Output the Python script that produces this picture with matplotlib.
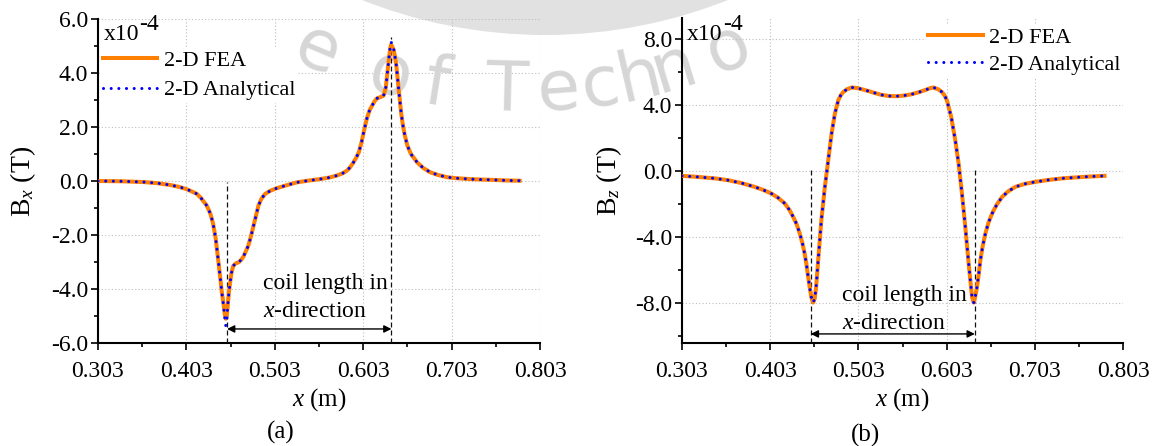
import numpy as np
import matplotlib
matplotlib.use("Agg")
import matplotlib.pyplot as plt
from matplotlib.patches import Circle

plt.rcParams['font.family'] = ['Liberation Serif', 'DejaVu Serif']
plt.rcParams['mathtext.fontset'] = 'custom'
plt.rcParams['mathtext.rm'] = 'Liberation Serif'
plt.rcParams['mathtext.it'] = 'Liberation Serif:italic'
plt.rcParams['axes.unicode_minus'] = False

# ---------------- data ----------------
x_bx = [0.303, 0.330, 0.355, 0.370, 0.385, 0.395, 0.403, 0.410, 0.415, 0.420,
        0.426, 0.430, 0.433, 0.436, 0.438, 0.441, 0.443, 0.445, 0.4465, 0.4475,
        0.4485, 0.4495, 0.451, 0.4525, 0.454, 0.456, 0.459, 0.462, 0.465, 0.4675,
        0.470, 0.473, 0.476, 0.479, 0.482, 0.4845, 0.488, 0.492, 0.498, 0.505,
        0.515, 0.528, 0.540, 0.554, 0.565, 0.573, 0.580, 0.5845, 0.588, 0.592,
        0.595, 0.598, 0.601, 0.6035, 0.607, 0.610, 0.613, 0.616, 0.6185, 0.622,
        0.626, 0.6285, 0.630, 0.632, 0.6335, 0.6345, 0.6355, 0.6375, 0.639, 0.6405,
        0.6425, 0.6443, 0.646, 0.648, 0.650, 0.653, 0.657, 0.664, 0.671, 0.679,
        0.688, 0.698, 0.710, 0.724, 0.740, 0.751, 0.765, 0.780]
bx_fea = [0.00, -0.01, -0.04, -0.08, -0.15, -0.22, -0.30, -0.40, -0.48, -0.65,
          -0.91, -1.20, -1.55, -2.10, -2.65, -3.50, -4.10, -4.55, -4.95, -5.10,
          -5.02, -4.70, -4.15, -3.75, -3.40, -3.14, -3.05, -3.01, -2.92, -2.80,
          -2.62, -2.40, -2.05, -1.65, -1.25, -0.91, -0.65, -0.48, -0.36, -0.27,
          -0.17, -0.05, 0.01, 0.07, 0.13, 0.20, 0.29, 0.38, 0.50, 0.69,
          0.86, 1.06, 1.42, 1.80, 2.30, 2.60, 2.79, 2.96, 3.06, 3.10,
          3.16, 3.45, 3.90, 4.50, 4.90, 5.05, 5.00, 4.85, 4.60, 4.27,
          3.60, 3.04, 2.50, 2.05, 1.70, 1.31, 1.00, 0.69, 0.48, 0.32,
          0.22, 0.14, 0.10, 0.07, 0.05, 0.04, 0.02, 0.01]
bx_ana = [0.00, -0.01, -0.04, -0.08, -0.15, -0.22, -0.30, -0.40, -0.48, -0.65,
          -0.91, -1.20, -1.55, -2.10, -2.65, -3.50, -4.10, -4.62, -5.10, -5.35,
          -5.25, -4.74, -4.15, -3.75, -3.40, -3.14, -3.05, -3.01, -2.92, -2.80,
          -2.62, -2.40, -2.05, -1.65, -1.25, -0.91, -0.65, -0.48, -0.36, -0.27,
          -0.17, -0.05, 0.01, 0.07, 0.13, 0.20, 0.29, 0.38, 0.50, 0.69,
          0.86, 1.06, 1.42, 1.80, 2.30, 2.60, 2.79, 2.96, 3.06, 3.10,
          3.16, 3.45, 3.90, 4.52, 4.95, 5.14, 5.10, 4.89, 4.60, 4.27,
          3.60, 3.04, 2.50, 2.05, 1.70, 1.31, 1.00, 0.69, 0.48, 0.32,
          0.22, 0.14, 0.10, 0.07, 0.05, 0.04, 0.02, 0.01]

x_bz = [0.303, 0.320, 0.340, 0.355, 0.370, 0.385, 0.395, 0.404, 0.412, 0.4195,
        0.425, 0.429, 0.433, 0.4365, 0.4395, 0.442, 0.444, 0.446, 0.448, 0.4495,
        0.4517, 0.4535, 0.455, 0.4574, 0.461, 0.465, 0.4688, 0.4726, 0.4764, 0.4802,
        0.483, 0.486, 0.490, 0.4954, 0.502, 0.5105, 0.520, 0.529, 0.538, 0.5466,
        0.555, 0.5635, 0.5715, 0.5787, 0.5835, 0.588, 0.5935, 0.5976, 0.6005, 0.6033,
        0.6082, 0.6128, 0.6166, 0.6204, 0.6242, 0.628, 0.6318, 0.6337, 0.6355, 0.6375,
        0.6395, 0.6413, 0.644, 0.647, 0.6505, 0.6546, 0.660, 0.666, 0.673, 0.6812,
        0.692, 0.704, 0.718, 0.7343, 0.750, 0.765, 0.782]
bz_fea = [-0.27, -0.33, -0.42, -0.53, -0.70, -0.93, -1.12, -1.33, -1.60, -1.94,
          -2.35, -2.75, -3.20, -3.76, -4.35, -4.97, -5.60, -6.39, -7.10, -7.60,
          -7.95, -7.70, -7.05, -5.38, -2.95, -0.93, 0.68, 2.30, 3.52, 4.32,
          4.62, 4.82, 4.98, 5.09, 5.05, 4.93, 4.78, 4.64, 4.57, 4.56,
          4.60, 4.68, 4.80, 4.93, 5.03, 5.09, 4.98, 4.82, 4.62, 4.32,
          3.31, 1.90, 0.48, -1.33, -3.36, -5.58, -7.60, -7.95, -7.60, -6.99,
          -6.20, -5.38, -4.50, -3.76, -3.10, -2.55, -2.00, -1.54, -1.20, -0.93,
          -0.75, -0.63, -0.52, -0.42, -0.36, -0.31, -0.27]
bz_ana = list(bz_fea)

coil_start = 0.449
coil_end = 0.635

x_ticks = [0.303, 0.403, 0.503, 0.603, 0.703, 0.803]
x_ticklabels = ['0.303', '0.403', '0.503', '0.603', '0.703', '0.803']
bx_ticks = [-6.0, -4.0, -2.0, 0.0, 2.0, 4.0, 6.0]
bx_ticklabels = ['-6.0', '-4.0', '-2.0', '0.0', '2.0', '4.0', '6.0']
bz_ticks = [-8.0, -4.0, 0.0, 4.0, 8.0]
bz_ticklabels = ['-8.0', '-4.0', '0.0', '4.0', '8.0']

FEA_COLOR = '#FF7F00'
ANA_COLOR = '#0000FF'
FS = 17

W, H = 1155, 446
fig = plt.figure(figsize=(W / 100, H / 100), dpi=100)

# background layer in pixel coordinates for the faint emblem
bg = fig.add_axes([0, 0, 1, 1], zorder=-5)
bg.set_xlim(0, W)
bg.set_ylim(H, 0)
bg.axis('off')
bg.add_patch(Circle((545, -461), 496, color='#e1e1e1', lw=0))


def style_axes(ax, yticks, yticklabels, ylim, ystep):
    ax.set_facecolor('none')
    for s in ('top', 'right'):
        ax.spines[s].set_visible(False)
    for s in ('left', 'bottom'):
        ax.spines[s].set_linewidth(1.5)
    ax.set_xlim(0.303, 0.803)
    ax.set_ylim(*ylim)
    ax.set_xticks(x_ticks)
    ax.set_xticklabels(x_ticklabels)
    ax.set_xticks(np.arange(0.353, 0.803, 0.1), minor=True)
    ax.set_yticks(yticks)
    ax.set_yticklabels(yticklabels)
    ymin_minor = np.ceil(ylim[0] / ystep) * ystep
    ax.set_yticks(np.arange(ymin_minor, ylim[1] + 1e-9, ystep), minor=True)
    ax.tick_params(which='major', direction='out', length=5, width=1.2, labelsize=FS)
    ax.tick_params(which='minor', direction='out', length=3, width=1.2)
    ax.tick_params(axis='x', which='major', pad=8)
    ax.tick_params(axis='y', which='major', pad=2)
    ax.grid(True, which='major', linestyle=(0, (1, 2)), color='#bdbdbd', lw=0.8)
    ax.set_axisbelow(True)


def draw_panel(ax, xs, fea, ana, arrow_y, dash_tops, text_x, text_y1, text_y2, ylim, sup_y):
    ax.plot(xs, fea, color=FEA_COLOR, lw=2.9, label='2-D FEA', zorder=7)
    ax.plot(xs, ana, color=ANA_COLOR, lw=2.2, linestyle=(0, (0.01, 2.5)),
            dash_capstyle='round', label='2-D Analytical', zorder=8)
    for xv, top in zip((coil_start, coil_end), dash_tops):
        ax.plot([xv, xv], [ylim[0], top], color='#111111', lw=0.9,
                linestyle=(0, (4, 2.4)), zorder=6.5)
    ax.annotate('', xy=(coil_end, arrow_y), xytext=(coil_start, arrow_y),
                arrowprops=dict(arrowstyle='<|-|>', color='black', lw=1.0,
                                shrinkA=0, shrinkB=0, mutation_scale=11), zorder=9)
    ax.text(text_x, text_y1, 'coil length in', fontsize=FS, ha='left', va='center')
    ax.text(text_x, text_y2, '$x$-direction', fontsize=FS, ha='left', va='center')
    t = ax.text(0.012, sup_y, 'x10', transform=ax.transAxes, fontsize=FS,
                ha='left', va='center')
    ax.annotate('-4', xy=(1.0, 1.0), xycoords=t, xytext=(0, 0),
                textcoords='offset points', fontsize=FS, ha='left', va='center')
    ax.set_xlabel('$x$ (m)', fontsize=18, labelpad=3)


# panel (a): Bx
ax1 = fig.add_axes([98 / W, (H - 343) / H, 442 / W, 324 / H])
bx_ylim = (-6.0, 6.0)
style_axes(ax1, bx_ticks, bx_ticklabels, bx_ylim, 1.0)
draw_panel(ax1, x_bx, bx_fea, bx_ana, -5.48, (-0.05, 5.35), 0.490, -3.81, -4.85,
           bx_ylim, 0.951)
ax1.set_ylabel('B$_x$ (T)', fontsize=20)
ax1.yaxis.label.set_va('center')
ax1.yaxis.set_label_coords(-0.17, 0.5)
ax1.legend(loc='upper left', bbox_to_anchor=(0.006, 0.909), fontsize=16,
           frameon=True, facecolor='white', edgecolor='none', framealpha=1,
           borderpad=0.1, borderaxespad=0, handlelength=2.45,
           handletextpad=0.3, labelspacing=0.39)

# panel (b): Bz
ax2 = fig.add_axes([682 / W, (H - 343) / H, 441 / W, 325 / H])
bz_ylim = (-10.4, 9.3)
style_axes(ax2, bz_ticks, bz_ticklabels, bz_ylim, 2.0)
draw_panel(ax2, x_bz, bz_fea, bz_ana, -9.85, (0.15, 0.15), 0.484, -7.5, -9.21,
           bz_ylim, 0.948)
ax2.set_ylabel('B$_z$ (T)', fontsize=20)
ax2.yaxis.label.set_va('center')
ax2.yaxis.set_label_coords(-0.165, 0.5)
ax2.legend(loc='upper left', bbox_to_anchor=(0.553, 0.977), fontsize=16,
           frameon=True, facecolor='white', edgecolor='none', framealpha=1,
           borderpad=0.1, borderaxespad=0, handlelength=2.45,
           handletextpad=0.3, labelspacing=0.29)

# emblem lettering along an arc: above the legend box, beneath the curves
wm_letters = ['e', 'o', 'f', 'T', 'e', 'c', 'h', 'n', 'o']
wm_angles = [-22.8, -14.4, -9.1, -1.4, 4.2, 8.7, 13.2, 17.1, 23.3]
arc_cx, arc_cy, arc_r = 520.0, -434.0, 545.0
for ch, ang in zip(wm_letters, wm_angles):
    a = np.deg2rad(ang)
    ax1.text(arc_cx + arc_r * np.sin(a), arc_cy + arc_r * np.cos(a), ch,
             transform=bg.transData, fontsize=50, family='DejaVu Sans',
             color='#d6d6d6', ha='center', va='baseline', rotation=ang,
             rotation_mode='anchor', zorder=6, clip_on=False)

fig.text(281 / W, 1 - 432 / H, '(a)', fontsize=18, ha='center', va='center')
fig.text(865 / W, 1 - 435 / H, '(b)', fontsize=18, ha='center', va='center')

fig.savefig('out.png', dpi=100)
